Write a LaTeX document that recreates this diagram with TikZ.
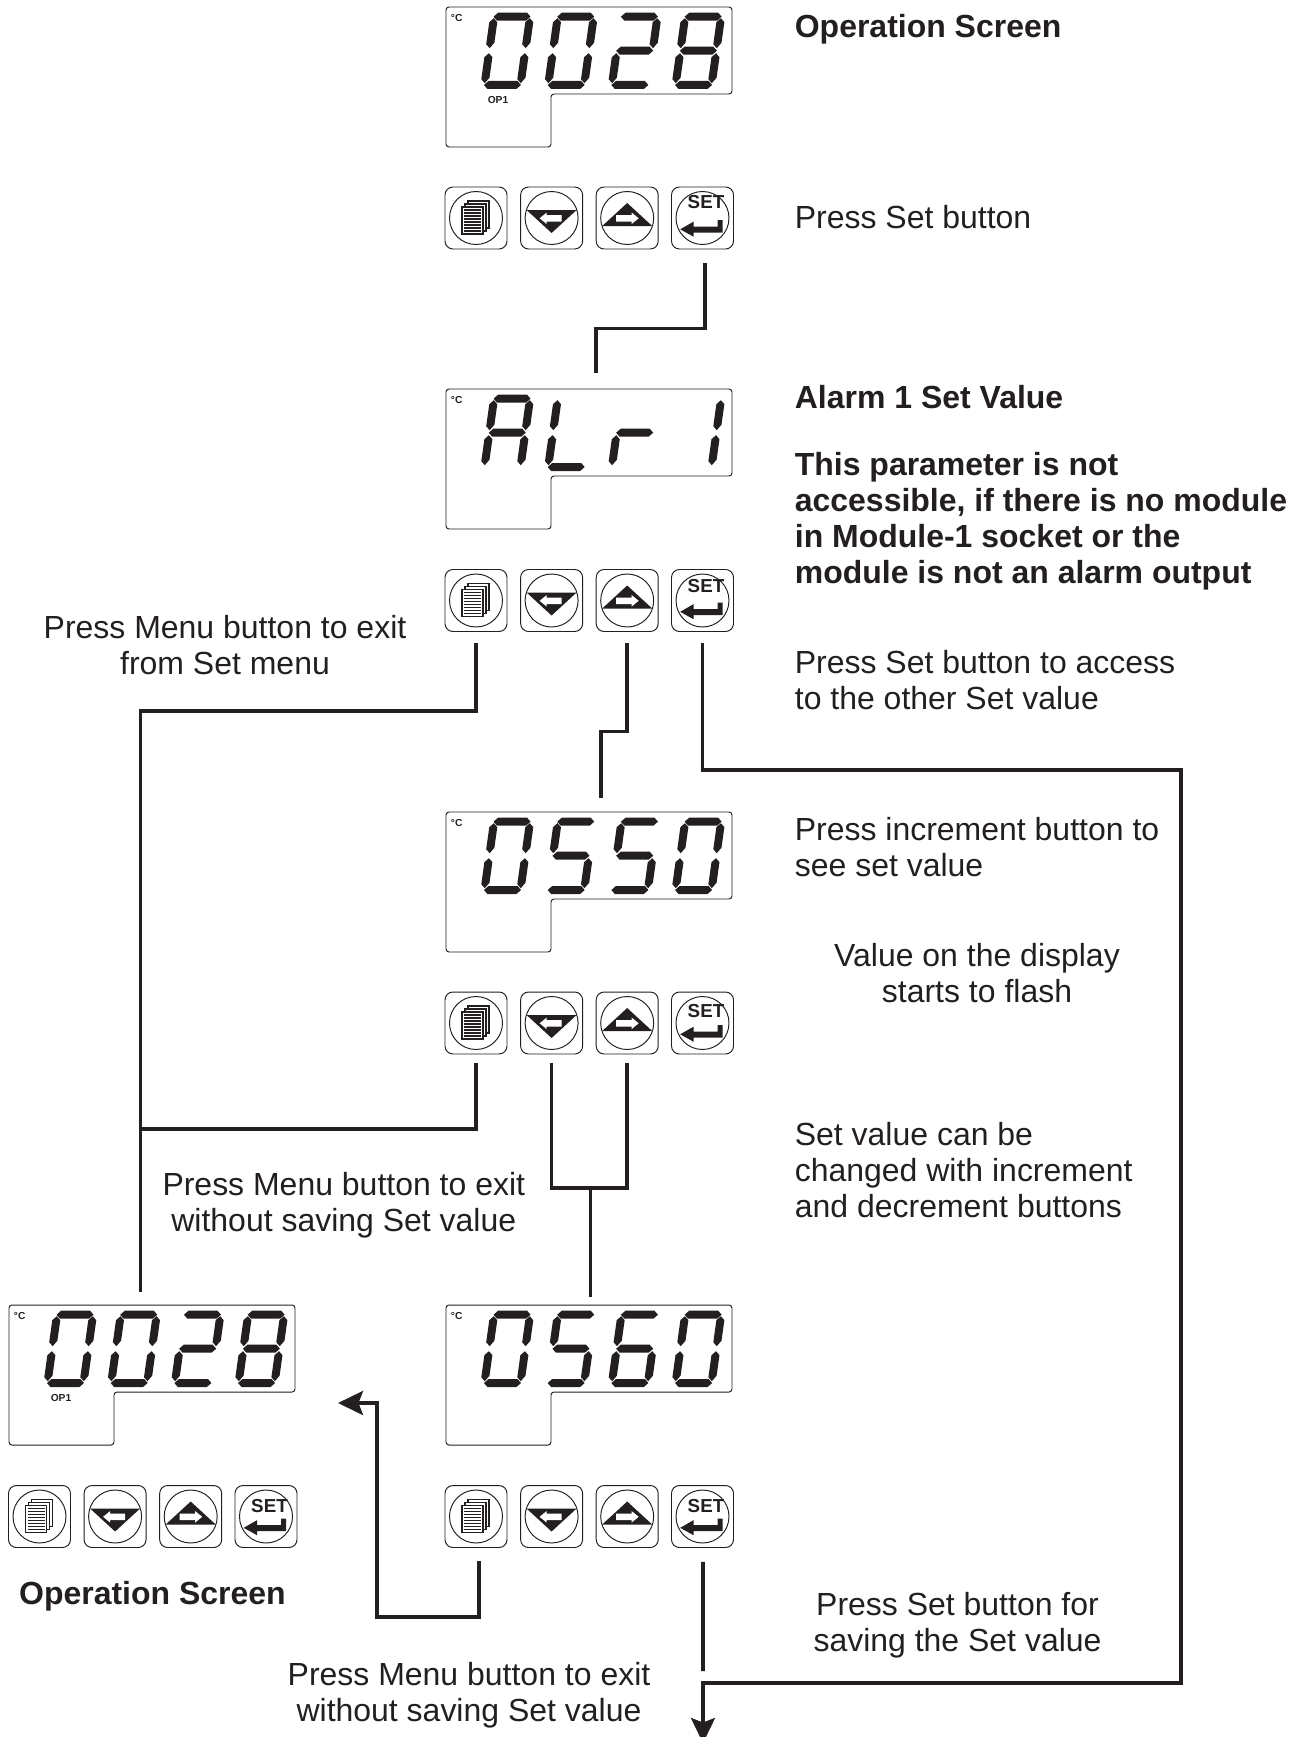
\documentclass[tikz,border=0pt]{standalone}
\usepackage{fontspec}
\setmainfont{Liberation Sans}
\usetikzlibrary{arrows.meta,calc}
\definecolor{inkblack}{HTML}{231F20}

% seven segment parts, all in px of the picture
\newcommand{\hseg}[1]{\fill[inkblack] (3.5,#1+4) -- (7.5,#1) -- (36.5,#1) -- (40.5,#1+4) -- (36.5,#1+8) -- (7.5,#1+8) -- cycle;}
\newcommand{\vseg}[2]{\fill[inkblack] (#1+4,#2) -- (#1+8,#2+4) -- (#1+8,#2+24.5) -- (#1+4,#2+30) -- (#1,#2+26) -- (#1,#2+4) -- cycle;}
\newcommand{\sega}{\hseg{0}}
\newcommand{\segb}{\vseg{36}{5.5}}
\newcommand{\segc}{\vseg{36}{40.5}}
\newcommand{\segd}{\hseg{68.3}}
\newcommand{\sege}{\vseg{0}{40.5}}
\newcommand{\segf}{\vseg{0}{5.5}}
\newcommand{\segg}{\hseg{34}}
\newcommand{\defdigit}[2]{\expandafter\def\csname dig#1\endcsname{#2}}
\defdigit{0}{a,b,c,d,e,f}
\defdigit{1}{b,c}
\defdigit{2}{a,b,g,e,d}
\defdigit{5}{a,f,g,c,d}
\defdigit{6}{a,f,g,e,c,d}
\defdigit{8}{a,b,c,d,e,f,g}
\defdigit{A}{a,b,c,e,f,g}
\defdigit{L}{f,e,d}
\defdigit{r}{e,g}

\tikzset{
  wire/.style={draw=inkblack, line width=2.1pt, line cap=butt, line join=miter},
  flowarrow/.style={wire, -{Stealth[length=0.5cm, width=0.48cm, inset=0.09cm]}},
  thinline/.style={draw=inkblack, line width=0.55pt},
  keybtn/.style={thinline, rectangle, rounded corners=4.5pt, minimum size=1.24cm, inner sep=0pt},
  plain/.style={font=\fontsize{18.2}{20.4}\selectfont, text=inkblack, inner sep=0pt, align=left, anchor=west},
  plainc/.style={plain, align=center, anchor=center},
  heading/.style={plain, font=\fontsize{18.2}{20.4}\selectfont\bfseries},
  tiny/.style={font=\fontsize{5.8}{6}\selectfont\bfseries, text=inkblack, inner sep=0pt},
  pics/display/.style={code={
    \draw[thinline, rounded corners=1.7pt] (0,0) -- (286,0) -- (286,87) -- (105,87) -- (105,140) -- (0,140) -- cycle;
    \node[tiny] (unit) at (10.7,10.7) {°C};
    \foreach \d [count=\i from 0] in {#1} {
      \edef\seglist{\csname dig\d\endcsname}
      \begin{scope}[shift={(44.6+\i*63.7,5.7)}, xslant=0.14]
        \foreach \s in \seglist {\csname seg\s\endcsname}
      \end{scope}
    }
  }},
  pics/keypad/.style={code={
    % menu
    \node[keybtn] (menu) at (0,0) {};
    \draw[thinline] (0,0) circle (26.5);
    \foreach \off in {6,3,0} {
      \draw[inkblack, fill=white, line width=0.85pt] (-14+\off,-11-\off) rectangle (7+\off,16-\off);
    }
    \foreach \yy in {-8,-5,...,14} {
      \draw[inkblack, line width=1pt] (-12,\yy) -- (5,\yy);
    }
    % decrement
    \node[keybtn] (dec) at (75.6,0) {};
    \begin{scope}[shift={(75.6,0)}]
      \draw[thinline] (0,0) circle (26.5);
      \fill[inkblack] (-25,-8) -- (25,-8) -- (0,15) -- cycle;
      \fill[white] (-12,0.3) -- (-5,-5.4) -- (-5,-3) -- (10,-3) -- (10,3.6) -- (-5,3.6) -- (-5,6) -- cycle;
    \end{scope}
    % increment
    \node[keybtn] (inc) at (151.2,0) {};
    \begin{scope}[shift={(151.2,0)}]
      \draw[thinline] (0,0) circle (26.5);
      \fill[inkblack] (-25,8) -- (25,8) -- (0,-15) -- cycle;
      \fill[white] (11.5,0.3) -- (4.5,-5.4) -- (4.5,-3) -- (-11,-3) -- (-11,3.6) -- (4.5,3.6) -- (4.5,6) -- cycle;
    \end{scope}
    % set
    \node[keybtn] (set) at (226.5,0) {};
    \begin{scope}[shift={(226.5,0)}]
      \draw[thinline] (0,0) circle (26.5);
      \fill[inkblack] (-22.3,11.3) -- (-9,3.7) -- (-9,8.7) -- (15,8.7) -- (15,2) -- (20,2) -- (20,14.7) -- (-9,14.7) -- (-9,18.7) -- cycle;
      \node[font=\fontsize{10.7}{11}\selectfont\bfseries, text=inkblack, inner sep=0pt] (lbl) at (3.5,#1) {SET};
    \end{scope}
  }}
}

\begin{document}
\begin{tikzpicture}[x=0.02cm, y=-0.02cm]
  \useasboundingbox (0,0) rectangle (1306,1737);

  % displays
  \pic (dspa) at (446,7) {display={0,0,2,8}};
  \pic (dspb) at (446,389) {display={A,L,r,1}};
  \pic (dspc) at (446,812) {display={0,5,5,0}};
  \pic (dspd) at (446,1305) {display={0,5,6,0}};
  \pic (dspe) at (9,1305) {display={0,0,2,8}};
  \node[tiny] (opa) at (498,100) {OP1};
  \node[tiny] (opb) at (61,1398) {OP1};

  % keypads
  \pic (kpa) at (476,218) {keypad=-16};
  \pic (kpb) at (476,600.5) {keypad=-14};
  \pic (kpc) at (476,1023) {keypad=-12};
  \pic (kpd) at (476,1516.5) {keypad=-10};
  \pic (kpe) at (39.5,1516.5) {keypad=-10};

  % texts on the right
  \node[heading] (t1) at (794.5,29) {Operation Screen};
  \node[plain] (t2) at (794.5,217) {Press Set button};
  \node[heading] (t3) at (794.5,397) {Alarm 1 Set Value};
  \node[heading] (t4) at (794.5,521) {This parameter is not\\ accessible, if there is no module\\ in Module-1 socket or the\\ module is not an alarm output};
  \node[plain] (t5) at (794.5,680) {Press Set button to access\\ to the other Set value};
  \node[plain] (t6) at (794.5,847) {Press increment button to\\ see set value};
  \node[plainc] (t7) at (977,972.7) {Value on the display\\ starts to flash};
  \node[plain] (t8) at (794.5,1170) {Set value can be\\ changed with increment\\ and decrement buttons};
  \node[plainc] (t9) at (957.5,1625) {Press Set button for\\ saving the Set value};
  % texts on the left
  \node[plainc] (t10) at (225,644.7) {Press Menu button to exit\\ from Set menu};
  \node[plainc] (t11) at (343.8,1205.3) {Press Menu button to exit\\ without saving Set value};
  \node[heading] (t12) at (18.8,1596.3) {Operation Screen};
  \node[plainc] (t13) at (469,1695) {Press Menu button to exit\\ without saving Set value};

  % free ends
  \coordinate (inb) at (596,373);
  \coordinate (inc) at (601,798);
  \coordinate (ind) at (590.4,1296.7);
  \coordinate (ine) at (140.6,1291.7);
  \coordinate (exitmid) at (140.6,1129);
  \coordinate (rtop) at (1181,770);
  \coordinate (rbot) at (703,1683);
  \coordinate (savetip) at (703,1743);
  \coordinate (saveend) at (703,1671);
  \coordinate (backcnr) at (377,1617);
  \coordinate (backtip) at (338,1403);
  \coordinate (joinc) at (590.4,1187.7);

  \draw[wire] ($(kpaset.south)+(2.5,14)$) -- ++(0,65) -| (inb);
  \draw[wire] ($(kpbmenu.south)+(0,11.5)$) -- ++(0,67.2) -| (ine);
  \draw[wire] ($(kpbinc.south)+(0,11.5)$) -- ++(0,88) -| (inc);
  \draw[flowarrow] ($(kpbset.south)+(0,11.5)$) |- (rtop) |- (rbot) -- (savetip);
  \draw[wire] ($(kpcmenu.south)+(0,9)$) |- (exitmid);
  \draw[wire] ($(kpcdec.south)+(0,9)$) -- ++(0,124.7) -| ($(kpcinc.south)+(0,9)$);
  \draw[wire] (joinc) -- (ind);
  \draw[flowarrow] ($(kpdmenu.south)+(3,13)$) |- (backcnr) |- (backtip);
  \draw[wire] ($(kpdset.south)+(0.5,14)$) -- (saveend);
\end{tikzpicture}
\end{document}
